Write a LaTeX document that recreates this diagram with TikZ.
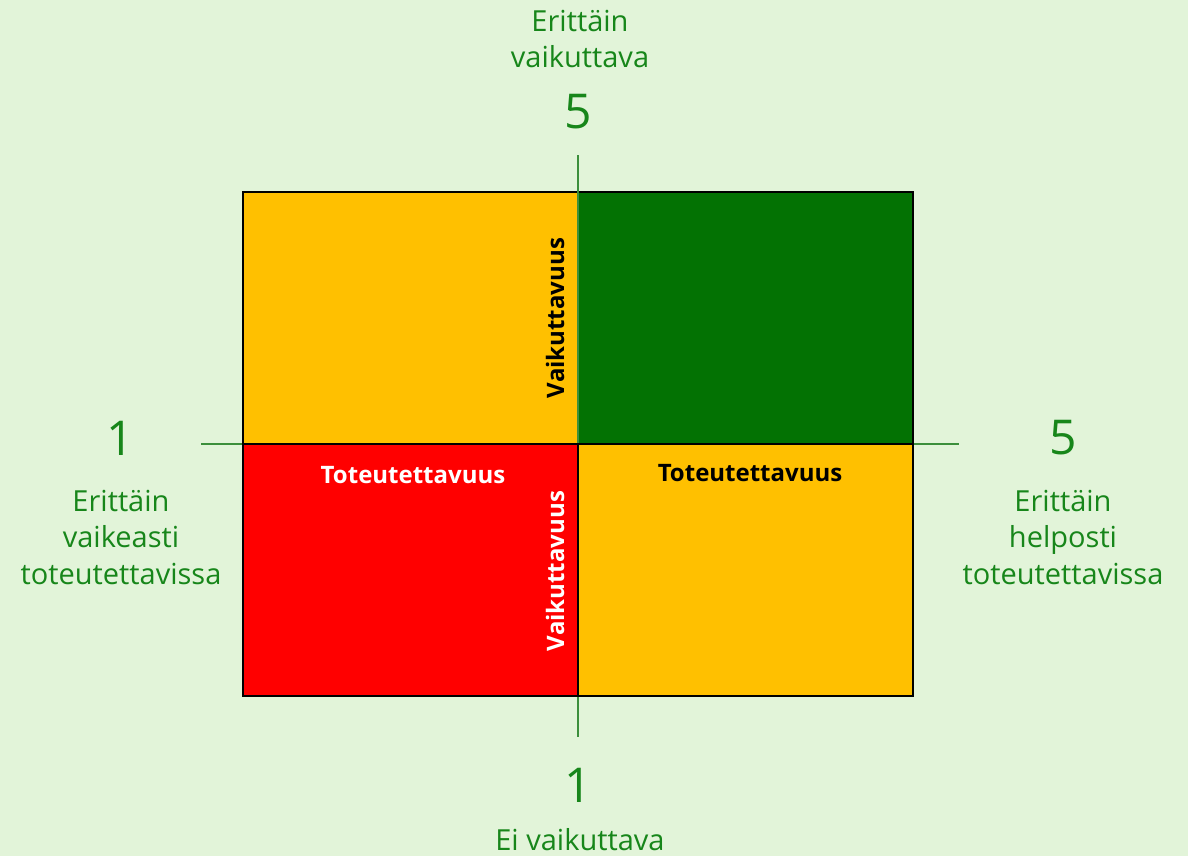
\documentclass[tikz,border=0pt]{standalone}
\usepackage{fontspec}
\setmainfont{Open Sans}
\definecolor{bg}{HTML}{E2F4D9}
\definecolor{txtgreen}{HTML}{17861A}
\definecolor{axisgreen}{HTML}{3C8F3C}
\definecolor{qgreen}{HTML}{037203}
\definecolor{qorange}{HTML}{FFC000}
\definecolor{qred}{HTML}{FF0000}
\begin{document}
\begin{tikzpicture}[x=1pt,y=-1pt,
  quad/.style={draw=black,line width=2.2pt,inner sep=0pt,outer sep=0pt,minimum width=335pt,minimum height=252pt,anchor=north west},
  axisline/.style={draw=axisgreen,line width=1.2pt},
  axtext/.style={text=txtgreen,font=\fontsize{29}{36.5}\selectfont,align=center,inner sep=0pt},
  axnum/.style={text=txtgreen,font=\fontsize{48}{56}\selectfont,inner sep=0pt},
  qlabel/.style={font=\fontsize{24}{28}\selectfont\bfseries,inner sep=0pt}]
\fill[bg] (0,0) rectangle (1188,856);
\useasboundingbox (0,0) rectangle (1188,856);
% top quadrants
\node[quad,fill=qorange] (tl) at (243,192) {};
\node[quad,fill=qgreen] (tr) at (578,192) {};
% axis lines
\coordinate (vtop) at (578,155);
\coordinate (vbot) at (578,737);
\coordinate (hleft) at (201,444);
\coordinate (hright) at (959,444);
\draw[axisline] (vtop) -- (vbot);
\draw[axisline] (hleft) -- (hright);
% bottom quadrants
\node[quad,fill=qred] (bl) at (243,444) {};
\node[quad,fill=qorange] (br) at (578,444) {};
% quadrant labels
\node[qlabel,text=black,rotate=90] (v1) at (555,318) {Vaikuttavuus};
\node[qlabel,text=white,rotate=90] (v2) at (555,571) {Vaikuttavuus};
\node[qlabel,text=white] (t1) at (413,475) {Toteutettavuus};
\node[qlabel,text=black] (t2) at (750,473) {Toteutettavuus};
% axis labels
\node[axtext] (toplab) at (580,39) {Erittäin\\vaikuttava};
\node[axnum] (top5) at (578,112) {5};
\node[axnum] (left1) at (120,438) {1};
\node[axtext] (leftlab) at (121,537) {Erittäin\\vaikeasti\\toteutettavissa};
\node[axnum] (right5) at (1063,438) {5};
\node[axtext] (rightlab) at (1063,537) {Erittäin\\helposti\\toteutettavissa};
\node[axnum] (bot1) at (578,785) {1};
\node[axtext] (botlab) at (580,840) {Ei vaikuttava};
\end{tikzpicture}
\end{document}
